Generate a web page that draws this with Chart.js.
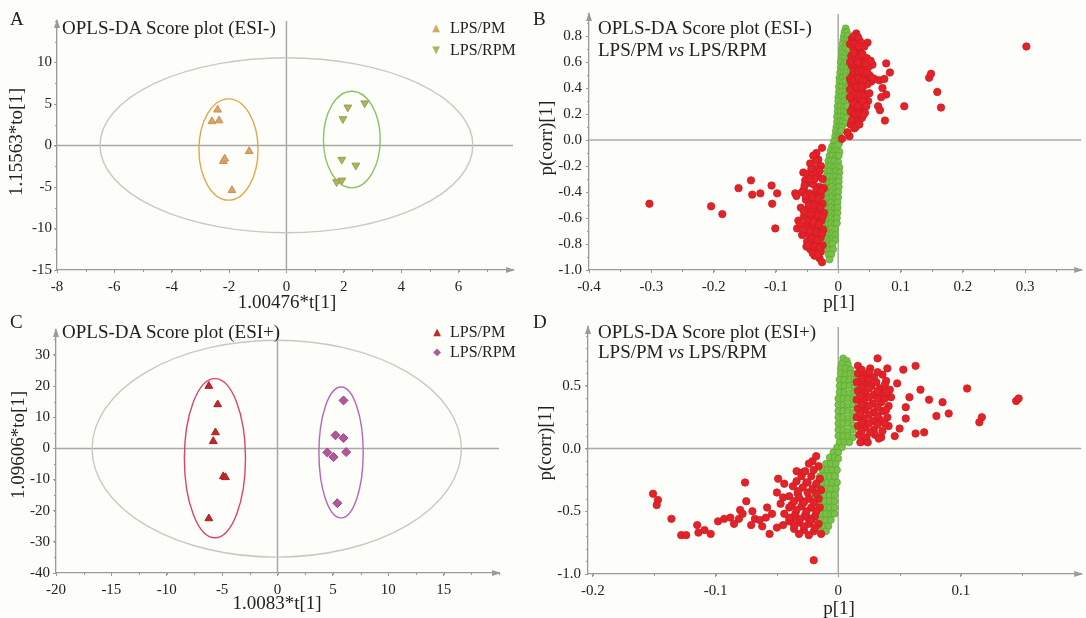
<!DOCTYPE html>
<html>
<head>
<meta charset="utf-8">
<script src="https://cdn.jsdelivr.net/npm/chart.js@4.4.1/dist/chart.umd.min.js"></script>
<style>
  html, body { margin: 0; padding: 0; background: #fdfdf9; }
  body { width: 1086px; height: 618px; position: relative; overflow: hidden;
         font-family: "Liberation Serif", "Times New Roman", serif; color: #222; }
  canvas { position: absolute; }
  .t { position: absolute; white-space: nowrap; line-height: 1; font-size: 19px; }
  .c { transform: translate(-50%, -50%); }
  .r { transform: translate(-50%, -50%) rotate(-90deg); }
  .lg { font-size: 16px; }
  .mk { font-family: "DejaVu Sans", sans-serif; font-size: 10px; transform: translate(-50%, -50%); }
</style>
</head>
<body>
<canvas id="cA" style="left:0;top:0" width="540" height="310"></canvas>
<canvas id="cB" style="left:540px;top:0" width="546" height="310"></canvas>
<canvas id="cC" style="left:0;top:310px" width="540" height="308"></canvas>
<canvas id="cD" style="left:540px;top:310px" width="546" height="308"></canvas>

<div class="t" style="left:10px;top:9px">A</div>
<div class="t" style="left:62px;top:18px">OPLS-DA Score plot (ESI-)</div>
<div class="t mk" style="left:436px;top:28px;color:#d9a46c">▲</div>
<div class="t lg" style="left:450px;top:20px">LPS/PM</div>
<div class="t mk" style="left:436px;top:50px;color:#aab55e">▼</div>
<div class="t lg" style="left:450px;top:42px">LPS/RPM</div>
<div class="t c" style="left:287px;top:301px">1.00476*t[1]</div>
<div class="t r" style="left:15px;top:142px">1.15563*to[1]</div>

<div class="t" style="left:533px;top:9px">B</div>
<div class="t" style="left:598px;top:18px">OPLS-DA Score plot (ESI-)</div>
<div class="t" style="left:598px;top:40px">LPS/PM <i>vs</i> LPS/RPM</div>
<div class="t c" style="left:839px;top:301px">p[1]</div>
<div class="t r" style="left:545px;top:138px">p(corr)[1]</div>

<div class="t" style="left:10px;top:312px">C</div>
<div class="t" style="left:62px;top:322px">OPLS-DA Score plot (ESI+)</div>
<div class="t mk" style="left:437px;top:332px;color:#c0282d">▲</div>
<div class="t lg" style="left:450px;top:324px">LPS/PM</div>
<div class="t mk" style="left:437px;top:352px;color:#b4579a">◆</div>
<div class="t lg" style="left:450px;top:344px">LPS/RPM</div>
<div class="t c" style="left:277px;top:602px">1.0083*t[1]</div>
<div class="t r" style="left:17px;top:445px">1.09606*to[1]</div>

<div class="t" style="left:533px;top:312px">D</div>
<div class="t" style="left:598px;top:322px">OPLS-DA Score plot (ESI+)</div>
<div class="t" style="left:598px;top:342px">LPS/PM <i>vs</i> LPS/RPM</div>
<div class="t c" style="left:839px;top:607px">p[1]</div>
<div class="t r" style="left:544px;top:443px">p(corr)[1]</div>

<script>
// ---- panel A: score plot ESI- ----
const pmA = [[-2.4, 4.3], [-2.6, 2.9], [-2.35, 3.0], [-1.3, -0.7], [-2.2, -1.9], [-2.15, -1.6], [-1.9, -5.4]];
const rpmA = [[2.14, 4.6], [2.73, 5.1], [1.97, 3.2], [1.93, -1.7], [2.42, -2.4], [1.75, -4.4], [1.93, -4.2]];
// [cx, cy, rx, ry]
const ellA = [[0, 0.03, 6.5, 10.55], [-2.02, -0.48, 1.03, 6.1], [2.28, 0.72, 0.99, 5.82]];
const xTicksA = [-8, -6, -4, -2, 0, 2, 4, 6];
const yTicksA = [-15, -10, -5, 0, 5, 10];

// ---- panel B: S-plot ESI- ----
const redB = [
  [0.302, 0.72], [0.146, 0.48], [0.149, 0.51], [0.159, 0.37], [0.165, 0.25], [0.106, 0.26], [0.075, 0.15],
  [0.077, 0.59], [0.083, 0.52], [0.066, 0.46], [0.074, 0.47], [0.071, 0.40], [0.077, 0.35], [0.069, 0.33],
  [0.064, 0.26], [0.067, 0.23], [0.047, 0.75], [0.029, 0.82], [0.031, 0.73], [0.050, 0.59], [0.045, 0.52],
  [0.053, 0.45], [0.026, 0.09], [0.018, 0.03], [0.006, 0.01],
  [0.022, 0.78], [0.028, 0.77], [0.035, 0.76], [0.024, 0.71], [0.030, 0.68], [0.036, 0.70], [0.042, 0.72],
  [0.021, 0.65], [0.027, 0.62], [0.034, 0.64], [0.040, 0.60], [0.046, 0.63], [0.055, 0.58],
  [0.022, 0.57], [0.028, 0.55], [0.035, 0.58], [0.041, 0.55], [0.048, 0.56],
  [0.023, 0.50], [0.030, 0.48], [0.037, 0.51], [0.043, 0.48], [0.050, 0.50], [0.058, 0.47],
  [0.021, 0.44], [0.027, 0.42], [0.034, 0.45], [0.040, 0.41], [0.047, 0.43],
  [0.024, 0.38], [0.031, 0.36], [0.038, 0.38], [0.044, 0.35],
  [0.022, 0.31], [0.029, 0.29], [0.035, 0.32], [0.041, 0.28], [0.048, 0.30],
  [0.023, 0.25], [0.030, 0.22], [0.037, 0.25], [0.043, 0.21],
  [0.024, 0.18], [0.031, 0.15], [0.038, 0.17], [0.020, 0.12], [0.028, 0.10], [0.015, 0.06],
  [0.025, 0.80], [0.032, 0.79], [0.019, 0.74], [0.027, 0.74], [0.033, 0.72], [0.039, 0.66], [0.025, 0.67],
  [0.031, 0.60], [0.019, 0.60], [0.044, 0.59], [0.052, 0.61], [0.025, 0.53], [0.032, 0.53], [0.039, 0.53],
  [0.046, 0.52], [0.019, 0.47], [0.025, 0.46], [0.033, 0.47], [0.040, 0.46], [0.054, 0.48], [0.030, 0.41],
  [0.037, 0.41], [0.019, 0.39], [0.026, 0.35], [0.034, 0.35], [0.041, 0.34], [0.050, 0.36], [0.019, 0.33],
  [0.025, 0.28], [0.032, 0.26], [0.039, 0.30], [0.045, 0.26], [0.020, 0.22], [0.027, 0.20], [0.034, 0.20],
  [0.040, 0.19], [0.022, 0.15], [0.034, 0.12],
  [-0.303, -0.49], [-0.204, -0.51], [-0.186, -0.57], [-0.160, -0.37], [-0.140, -0.31], [-0.138, -0.42],
  [-0.125, -0.41], [-0.107, -0.35], [-0.098, -0.41], [-0.106, -0.49], [-0.101, -0.68], [-0.069, -0.41],
  [-0.067, -0.43], [-0.056, -0.25], [-0.053, -0.31], [-0.055, -0.38], [-0.064, -0.62], [-0.066, -0.68],
  [-0.058, -0.73], [-0.051, -0.82], [-0.035, -0.10], [-0.026, -0.06],
  [-0.040, -0.12], [-0.032, -0.15], [-0.045, -0.18], [-0.028, -0.20], [-0.037, -0.22],
  [-0.050, -0.26], [-0.042, -0.27], [-0.033, -0.28], [-0.025, -0.30],
  [-0.048, -0.33], [-0.040, -0.34], [-0.030, -0.36], [-0.023, -0.37],
  [-0.058, -0.40], [-0.046, -0.41], [-0.037, -0.42], [-0.028, -0.43],
  [-0.052, -0.46], [-0.043, -0.47], [-0.034, -0.48], [-0.025, -0.49],
  [-0.060, -0.52], [-0.049, -0.53], [-0.040, -0.54], [-0.031, -0.55], [-0.023, -0.56],
  [-0.055, -0.59], [-0.045, -0.60], [-0.036, -0.61], [-0.027, -0.62],
  [-0.061, -0.65], [-0.050, -0.66], [-0.041, -0.67], [-0.032, -0.68], [-0.024, -0.69],
  [-0.055, -0.72], [-0.046, -0.73], [-0.037, -0.74], [-0.028, -0.75],
  [-0.050, -0.78], [-0.041, -0.79], [-0.032, -0.80], [-0.025, -0.81],
  [-0.045, -0.84], [-0.036, -0.85], [-0.028, -0.86],
  [-0.038, -0.89], [-0.030, -0.91], [-0.026, -0.94],
  [-0.036, -0.16], [-0.043, -0.22], [-0.030, -0.24], [-0.038, -0.30], [-0.046, -0.30], [-0.054, -0.35],
  [-0.035, -0.38], [-0.027, -0.39], [-0.052, -0.43], [-0.041, -0.44], [-0.032, -0.45], [-0.047, -0.50],
  [-0.038, -0.50], [-0.029, -0.52], [-0.055, -0.55], [-0.044, -0.57], [-0.033, -0.58], [-0.025, -0.59],
  [-0.050, -0.62], [-0.040, -0.63], [-0.031, -0.65], [-0.056, -0.69], [-0.045, -0.70], [-0.035, -0.71],
  [-0.026, -0.72], [-0.043, -0.76], [-0.034, -0.77], [-0.048, -0.81], [-0.038, -0.82], [-0.030, -0.83],
  [-0.041, -0.87], [-0.033, -0.88]
];
const greenB = [
  [0.012, 0.86], [0.010, 0.83], [0.014, 0.83], [0.009, 0.80], [0.015, 0.80],
  [0.008, 0.77], [0.013, 0.77], [0.017, 0.76], [0.007, 0.74], [0.012, 0.73], [0.017, 0.73],
  [0.006, 0.70], [0.011, 0.70], [0.016, 0.69], [0.006, 0.67], [0.011, 0.66], [0.017, 0.66],
  [0.005, 0.63], [0.010, 0.63], [0.015, 0.62], [0.020, 0.63],
  [0.004, 0.60], [0.009, 0.59], [0.014, 0.60], [0.019, 0.59],
  [0.004, 0.56], [0.008, 0.56], [0.013, 0.55], [0.019, 0.56],
  [0.003, 0.52], [0.008, 0.52], [0.013, 0.52], [0.019, 0.51],
  [0.002, 0.48], [0.007, 0.48], [0.013, 0.49], [0.018, 0.48],
  [0.002, 0.45], [0.007, 0.44], [0.012, 0.45], [0.018, 0.44],
  [0.001, 0.41], [0.006, 0.41], [0.012, 0.40], [0.017, 0.41],
  [0.001, 0.37], [0.006, 0.37], [0.011, 0.37], [0.016, 0.36],
  [0.000, 0.33], [0.005, 0.33], [0.011, 0.34], [0.016, 0.33],
  [0.000, 0.30], [0.005, 0.29], [0.010, 0.30], [0.015, 0.29],
  [-0.001, 0.26], [0.004, 0.26], [0.009, 0.25], [0.014, 0.26],
  [-0.001, 0.22], [0.004, 0.22], [0.009, 0.22], [0.013, 0.21],
  [-0.002, 0.18], [0.003, 0.18], [0.008, 0.18], [0.012, 0.17],
  [-0.002, 0.14], [0.003, 0.14], [0.007, 0.14], [0.011, 0.13],
  [-0.003, 0.10], [0.002, 0.10], [0.006, 0.10],
  [-0.004, 0.07], [0.001, 0.06], [0.005, 0.07],
  [-0.005, 0.03], [0.000, 0.03], [0.003, 0.02],
  [-0.007, -0.01], [-0.002, -0.01], [0.002, -0.02],
  [-0.010, -0.05], [-0.005, -0.05], [0.000, -0.04],
  [-0.012, -0.08], [-0.007, -0.09], [-0.002, -0.08], [0.002, -0.09],
  [-0.014, -0.12], [-0.009, -0.12], [-0.004, -0.13], [0.001, -0.12],
  [-0.016, -0.16], [-0.011, -0.16], [-0.006, -0.16], [0.000, -0.17],
  [-0.017, -0.20], [-0.012, -0.20], [-0.007, -0.21], [-0.002, -0.20], [0.002, -0.21],
  [-0.018, -0.24], [-0.013, -0.24], [-0.008, -0.25], [-0.003, -0.24], [0.002, -0.25],
  [-0.019, -0.28], [-0.014, -0.28], [-0.009, -0.29], [-0.004, -0.28], [0.001, -0.29],
  [-0.019, -0.32], [-0.014, -0.33], [-0.009, -0.32], [-0.004, -0.33], [0.001, -0.32],
  [-0.020, -0.36], [-0.015, -0.37], [-0.010, -0.36], [-0.005, -0.37], [0.001, -0.36],
  [-0.020, -0.40], [-0.015, -0.41], [-0.010, -0.40], [-0.005, -0.41], [0.000, -0.40],
  [-0.020, -0.44], [-0.015, -0.45], [-0.010, -0.44], [-0.005, -0.45], [0.000, -0.44],
  [-0.021, -0.48], [-0.016, -0.49], [-0.011, -0.48], [-0.006, -0.49], [-0.001, -0.48],
  [-0.021, -0.52], [-0.016, -0.53], [-0.011, -0.52], [-0.006, -0.53], [-0.001, -0.52],
  [-0.021, -0.56], [-0.016, -0.57], [-0.011, -0.56], [-0.006, -0.57], [-0.001, -0.56],
  [-0.021, -0.60], [-0.016, -0.61], [-0.011, -0.60], [-0.006, -0.61], [-0.002, -0.60],
  [-0.021, -0.64], [-0.016, -0.65], [-0.011, -0.64], [-0.006, -0.65], [-0.002, -0.64],
  [-0.020, -0.68], [-0.015, -0.69], [-0.010, -0.68], [-0.005, -0.69],
  [-0.020, -0.72], [-0.015, -0.73], [-0.010, -0.72], [-0.005, -0.73],
  [-0.019, -0.76], [-0.014, -0.77], [-0.009, -0.76], [-0.005, -0.77],
  [-0.019, -0.80], [-0.014, -0.81], [-0.009, -0.80],
  [-0.018, -0.84], [-0.013, -0.85], [-0.008, -0.84],
  [-0.016, -0.88], [-0.011, -0.88], [-0.014, -0.92]
];
const xTicksB = [-0.4, -0.3, -0.2, -0.1, 0, 0.1, 0.2, 0.3];
const yTicksB = [-1.0, -0.8, -0.6, -0.4, -0.2, 0.0, 0.2, 0.4, 0.6, 0.8];

// ---- panel C: score plot ESI+ ----
const pmC = [[-6.2, 20], [-5.4, 14.1], [-5.6, 5.1], [-5.8, 2.3], [-4.9, -9.0], [-4.7, -9.3], [-6.2, -22.5]];
const rpmC = [[5.96, 15.4], [5.24, 4.2], [5.96, 3.3], [4.5, -1.3], [6.2, -1.2], [5.06, -2.8], [5.4, -17.6]];
const ellC = [[-0.07, -0.1, 16.67, 34.8], [-5.65, -3.15, 2.76, 25.55], [5.74, -1.3, 2.0, 21.0]];
const xTicksC = [-20, -15, -10, -5, 0, 5, 10, 15];
const yTicksC = [-40, -30, -20, -10, 0, 10, 20, 30];

// ---- panel D: S-plot ESI+ ----
const redD = [
  [0.032, 0.72], [0.026, 0.64], [0.040, 0.64], [0.053, 0.63], [0.063, 0.66], [0.016, 0.66], [0.048, 0.52],
  [0.039, 0.54], [0.067, 0.47], [0.105, 0.48], [0.145, 0.38], [0.147, 0.40], [0.117, 0.25], [0.115, 0.21],
  [0.090, 0.28], [0.085, 0.37], [0.080, 0.26], [0.074, 0.39], [0.058, 0.41], [0.055, 0.33], [0.055, 0.24],
  [0.063, 0.12], [0.070, 0.13], [0.046, 0.10], [0.050, 0.16], [0.041, 0.18], [0.035, 0.09], [0.020, 0.06],
  [0.016, 0.60], [0.022, 0.58], [0.029, 0.57], [0.036, 0.59],
  [0.015, 0.53], [0.021, 0.52], [0.027, 0.50], [0.034, 0.48], [0.042, 0.47],
  [0.016, 0.46], [0.022, 0.44], [0.029, 0.43], [0.036, 0.44], [0.043, 0.41],
  [0.015, 0.39], [0.021, 0.38], [0.028, 0.36], [0.035, 0.37], [0.041, 0.34],
  [0.016, 0.32], [0.022, 0.31], [0.029, 0.29], [0.036, 0.30],
  [0.015, 0.25], [0.021, 0.24], [0.028, 0.22], [0.034, 0.23], [0.040, 0.25],
  [0.016, 0.18], [0.022, 0.17], [0.029, 0.15], [0.036, 0.14],
  [0.017, 0.11], [0.023, 0.09], [0.030, 0.11], [0.018, 0.05],
  [0.019, 0.63], [0.025, 0.61], [0.032, 0.61], [0.019, 0.56], [0.025, 0.55], [0.031, 0.53], [0.038, 0.51],
  [0.019, 0.49], [0.025, 0.48], [0.032, 0.46], [0.039, 0.45], [0.018, 0.42], [0.025, 0.41], [0.032, 0.40],
  [0.038, 0.40], [0.019, 0.35], [0.025, 0.34], [0.032, 0.33], [0.039, 0.31], [0.018, 0.28], [0.025, 0.27],
  [0.032, 0.26], [0.019, 0.21], [0.025, 0.20], [0.032, 0.19], [0.038, 0.20], [0.019, 0.14], [0.026, 0.13],
  [0.033, 0.08], [0.024, 0.05],
  [-0.151, -0.36], [-0.147, -0.41], [-0.148, -0.45], [-0.136, -0.56], [-0.128, -0.69], [-0.124, -0.69],
  [-0.115, -0.61], [-0.114, -0.67], [-0.109, -0.65], [-0.104, -0.68], [-0.098, -0.58], [-0.093, -0.56],
  [-0.088, -0.55], [-0.085, -0.60], [-0.081, -0.56], [-0.080, -0.49], [-0.076, -0.27], [-0.075, -0.42],
  [-0.078, -0.52], [-0.071, -0.61], [-0.070, -0.50], [-0.068, -0.56], [-0.064, -0.57], [-0.062, -0.62],
  [-0.059, -0.55], [-0.058, -0.47], [-0.056, -0.68], [-0.054, -0.52], [-0.050, -0.35], [-0.049, -0.24],
  [-0.050, -0.63], [-0.045, -0.39], [-0.044, -0.28], [-0.040, -0.47], [-0.037, -0.55], [-0.034, -0.18],
  [-0.033, -0.36], [-0.029, -0.42], [-0.029, -0.19], [-0.026, -0.27], [-0.025, -0.55], [-0.021, -0.10],
  [-0.020, -0.89],
  [-0.018, -0.06], [-0.024, -0.12], [-0.016, -0.14],
  [-0.030, -0.22], [-0.022, -0.22], [-0.015, -0.24],
  [-0.037, -0.30], [-0.029, -0.31], [-0.021, -0.32], [-0.014, -0.33],
  [-0.040, -0.38], [-0.032, -0.39], [-0.024, -0.40], [-0.016, -0.40],
  [-0.038, -0.45], [-0.030, -0.46], [-0.022, -0.47], [-0.015, -0.47],
  [-0.044, -0.52], [-0.035, -0.52], [-0.027, -0.53], [-0.019, -0.54],
  [-0.040, -0.58], [-0.032, -0.59], [-0.024, -0.60], [-0.016, -0.60],
  [-0.036, -0.64], [-0.028, -0.65], [-0.020, -0.66], [-0.014, -0.68],
  [-0.020, -0.17], [-0.027, -0.18], [-0.034, -0.26], [-0.025, -0.27], [-0.018, -0.28], [-0.033, -0.34],
  [-0.025, -0.35], [-0.018, -0.36], [-0.036, -0.42], [-0.028, -0.43], [-0.020, -0.43], [-0.034, -0.49],
  [-0.026, -0.50], [-0.018, -0.50], [-0.040, -0.55], [-0.031, -0.56], [-0.022, -0.57], [-0.036, -0.61],
  [-0.028, -0.62], [-0.019, -0.63], [-0.032, -0.68], [-0.024, -0.69], [-0.045, -0.61], [-0.047, -0.44]
];
const greenD = [
  [0.004, 0.72], [0.007, 0.70], [0.003, 0.68], [0.008, 0.67],
  [0.002, 0.64], [0.006, 0.64], [0.010, 0.63],
  [0.002, 0.60], [0.006, 0.59], [0.010, 0.60], [0.013, 0.59],
  [0.001, 0.55], [0.005, 0.55], [0.009, 0.54], [0.013, 0.55],
  [0.001, 0.50], [0.005, 0.50], [0.009, 0.50], [0.013, 0.49],
  [0.001, 0.45], [0.005, 0.45], [0.009, 0.44], [0.013, 0.45],
  [0.000, 0.40], [0.004, 0.40], [0.008, 0.40], [0.012, 0.39],
  [0.000, 0.35], [0.004, 0.35], [0.008, 0.34], [0.012, 0.35],
  [0.000, 0.30], [0.004, 0.30], [0.008, 0.30], [0.012, 0.29],
  [0.000, 0.25], [0.004, 0.25], [0.008, 0.24], [0.012, 0.25],
  [0.000, 0.20], [0.004, 0.20], [0.008, 0.20], [0.012, 0.19],
  [0.000, 0.15], [0.004, 0.15], [0.008, 0.14], [0.012, 0.15],
  [0.000, 0.10], [0.004, 0.10], [0.008, 0.10], [0.012, 0.09],
  [0.001, 0.05], [0.005, 0.05], [0.009, 0.05], [-0.001, 0.01], [0.003, 0.01],
  [-0.004, -0.03], [0.000, -0.03],
  [-0.007, -0.07], [-0.003, -0.07], [0.000, -0.08],
  [-0.010, -0.12], [-0.006, -0.12], [-0.002, -0.12],
  [-0.013, -0.17], [-0.009, -0.17], [-0.005, -0.17], [-0.001, -0.17],
  [-0.015, -0.22], [-0.011, -0.22], [-0.007, -0.22], [-0.003, -0.22],
  [-0.017, -0.27], [-0.013, -0.27], [-0.009, -0.27], [-0.005, -0.27], [-0.001, -0.27],
  [-0.018, -0.32], [-0.014, -0.32], [-0.010, -0.32], [-0.006, -0.32], [-0.002, -0.32],
  [-0.019, -0.37], [-0.015, -0.37], [-0.011, -0.37], [-0.007, -0.37], [-0.003, -0.37],
  [-0.019, -0.42], [-0.015, -0.42], [-0.011, -0.42], [-0.007, -0.42], [-0.003, -0.42],
  [-0.019, -0.47], [-0.015, -0.47], [-0.011, -0.47], [-0.007, -0.47], [-0.003, -0.47],
  [-0.018, -0.52], [-0.014, -0.52], [-0.010, -0.52], [-0.006, -0.52], [-0.003, -0.52],
  [-0.018, -0.57], [-0.014, -0.57], [-0.010, -0.57], [-0.006, -0.57],
  [-0.016, -0.62], [-0.012, -0.62], [-0.008, -0.62],
  [-0.014, -0.66], [-0.010, -0.66]
];
const xTicksD = [-0.2, -0.1, 0, 0.1];
const yTicksD = [-1.0, -0.5, 0.0, 0.5];

const FONT = "'Liberation Serif', 'Times New Roman', serif";
const AXIS = "#9a9a9a";

function pts(arr) {
  return arr.map(function (p) { return { x: p[0], y: p[1] }; });
}

function fmtInt(v) { return String(v); }
function fmtDec(v) { return v.toFixed(1); }
function fmtDecZero(v) { return v === 0 ? "0" : v.toFixed(1); }

function axis(min, max, ticks, fmt, isX, size, pad) {
  return {
    type: "linear",
    min: min,
    max: max,
    afterBuildTicks: function (s) { s.ticks = ticks.map(function (v) { return { value: v }; }); },
    afterFit: function (s) { if (isX) { s.height = size; } else { s.width = size; } },
    grid: { drawOnChartArea: false, drawTicks: true, tickLength: 3, color: AXIS, lineWidth: 1 },
    border: { display: true, color: AXIS, width: 1.3 },
    ticks: { autoSkip: false, maxRotation: 0, padding: pad, color: "#222",
             font: { family: FONT, size: 15 }, callback: fmt }
  };
}

// zero lines, confidence ellipses, minor ticks and axis arrows
function deco(cfg) {
  return {
    id: "deco",
    beforeDatasetsDraw: function (chart) {
      const ctx = chart.ctx, a = chart.chartArea, x = chart.scales.x, y = chart.scales.y;
      ctx.save();
      ctx.strokeStyle = "#a9a9a9";
      ctx.lineWidth = 1.5;
      const x0 = x.getPixelForValue(0), y0 = y.getPixelForValue(0);
      ctx.beginPath();
      ctx.moveTo(a.left, y0); ctx.lineTo(a.right, y0);
      ctx.moveTo(x0, a.top); ctx.lineTo(x0, a.bottom);
      ctx.stroke();
      (cfg.ellipses || []).forEach(function (e, i) {
        const cx = x.getPixelForValue(e[0]), cy = y.getPixelForValue(e[1]);
        const rx = Math.abs(x.getPixelForValue(e[0] + e[2]) - cx);
        const ry = Math.abs(y.getPixelForValue(e[1] + e[3]) - cy);
        ctx.strokeStyle = cfg.colors[i];
        ctx.lineWidth = 1.4;
        ctx.beginPath();
        ctx.ellipse(cx, cy, rx, ry, 0, 0, Math.PI * 2);
        ctx.stroke();
      });
      ctx.restore();
    },
    afterDraw: function (chart) {
      const ctx = chart.ctx, a = chart.chartArea, x = chart.scales.x, y = chart.scales.y;
      ctx.save();
      ctx.strokeStyle = AXIS;
      ctx.fillStyle = AXIS;
      ctx.lineWidth = 1;
      ctx.beginPath();
      for (let v = Math.ceil(x.min / cfg.mx) * cfg.mx; v <= x.max; v += cfg.mx) {
        const px = Math.round(x.getPixelForValue(v)) + 0.5;
        ctx.moveTo(px, a.bottom); ctx.lineTo(px, a.bottom + 2);
      }
      for (let v = Math.ceil(y.min / cfg.my) * cfg.my; v <= y.max; v += cfg.my) {
        const py = Math.round(y.getPixelForValue(v)) + 0.5;
        ctx.moveTo(a.left - 2, py); ctx.lineTo(a.left, py);
      }
      ctx.stroke();
      ctx.beginPath();
      ctx.moveTo(a.right + 2, a.bottom);
      ctx.lineTo(a.right - 7, a.bottom - 3);
      ctx.lineTo(a.right - 7, a.bottom + 3);
      ctx.closePath();
      ctx.moveTo(a.left, a.top - 2);
      ctx.lineTo(a.left - 3, a.top + 7);
      ctx.lineTo(a.left + 3, a.top + 7);
      ctx.closePath();
      ctx.fill();
      ctx.restore();
    }
  };
}

function makeChart(id, datasets, sx, sy, padding, cfg) {
  return new Chart(document.getElementById(id), {
    type: "scatter",
    data: { datasets: datasets },
    options: {
      responsive: false,
      animation: false,
      events: [],
      layout: { padding: padding },
      scales: { x: sx, y: sy },
      plugins: { legend: { display: false }, tooltip: { enabled: false } }
    },
    plugins: [deco(cfg)]
  });
}

makeChart("cA", [
  { label: "LPS/PM", data: pts(pmA), pointStyle: "triangle", pointRadius: 4.5,
    backgroundColor: "#d9a46c", borderColor: "#c98f55", borderWidth: 1 },
  { label: "LPS/RPM", data: pts(rpmA), pointStyle: "triangle", pointRotation: 180, pointRadius: 4.5,
    backgroundColor: "#aab55e", borderColor: "#959f4c", borderWidth: 1 }
], axis(-8, 7.9, xTicksA, fmtInt, true, 40, 5), axis(-15, 15, yTicksA, fmtInt, false, 57, 2),
  { left: 0, top: 21, right: 27, bottom: 0 },
  { ellipses: ellA, colors: ["#c9c9c2", "#e0a84a", "#8fc267"], mx: 1, my: 2.5 });

makeChart("cB", [
  { label: "red", data: pts(redB), pointRadius: 3.7,
    backgroundColor: "#e3222a", borderColor: "#cf1c22", borderWidth: 0.8 },
  { label: "green", data: pts(greenB), pointRadius: 3.4,
    backgroundColor: "#79c247", borderColor: "#5ea934", borderWidth: 0.8 }
], axis(-0.4, 0.39, xTicksB, fmtDecZero, true, 40, 5), axis(-1.0, 0.97, yTicksB, fmtDec, false, 49, 4),
  { left: 0, top: 14, right: 4, bottom: 0 },
  { mx: 0.05, my: 0.1 });

makeChart("cC", [
  { label: "LPS/PM", data: pts(pmC), pointStyle: "triangle", pointRadius: 4.5,
    backgroundColor: "#c0282d", borderColor: "#a81e24", borderWidth: 1 },
  { label: "LPS/RPM", data: pts(rpmC), pointStyle: "rectRot", pointRadius: 4.5,
    backgroundColor: "#b4579a", borderColor: "#9d4585", borderWidth: 1 }
], axis(-20, 20, xTicksC, fmtInt, true, 45, 5), axis(-40, 38, yTicksC, fmtInt, false, 56, 3),
  { left: 0, top: 20, right: 41, bottom: 0 },
  { ellipses: ellC, colors: ["#c9c9c2", "#d9456f", "#b466b8"], mx: 2.5, my: 5 });

makeChart("cD", [
  { label: "red", data: pts(redD), pointRadius: 3.7,
    backgroundColor: "#e3222a", borderColor: "#cf1c22", borderWidth: 0.8 },
  { label: "green", data: pts(greenD), pointRadius: 3.4,
    backgroundColor: "#79c247", borderColor: "#5ea934", borderWidth: 0.8 }
], axis(-0.204, 0.198, xTicksD, fmtDecZero, true, 44, 5), axis(-1.0, 0.97, yTicksD, fmtDec, false, 48, 4),
  { left: 0, top: 17, right: 4, bottom: 0 },
  { mx: 0.05, my: 0.1 });
</script>
</body>
</html>
